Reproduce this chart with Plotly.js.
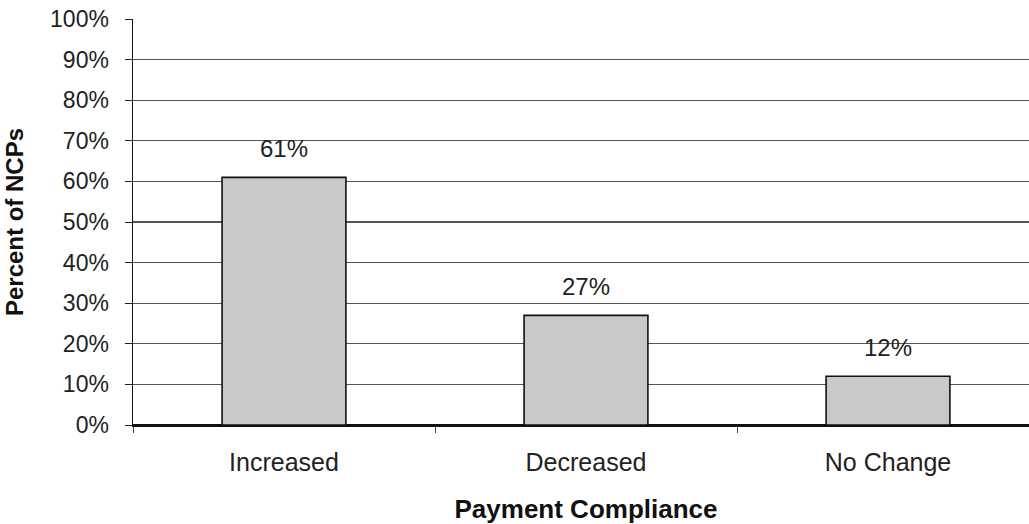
<!DOCTYPE html>
<html>
<head>
<meta charset="utf-8">
<script src="https://cdn.plot.ly/plotly-3.0.1.min.js"></script>
<style>
  html, body { margin: 0; padding: 0; overflow: hidden; background: #fff; }
  #chart { width: 1042px; height: 524px; }
</style>
</head>
<body>
<div id="chart"></div>
<script>
// Change in payment compliance among NCPs
const categories = ['Increased', 'Decreased', 'No Change'];
const percentValues = [61, 27, 12];
const yTickValues = [0, 10, 20, 30, 40, 50, 60, 70, 80, 90, 100];
const yTickLabels = yTickValues.map(v => v + '%');

const font = 'Arial, "Liberation Sans", sans-serif';

const bars = {
  type: 'bar',
  x: categories,
  y: percentValues,
  width: 0.41,
  marker: {
    color: '#c9c9c9',
    line: { color: '#111', width: 1.6 }
  },
  hoverinfo: 'skip'
};

// Value labels placed above each bar
const labels = categories.map((c, i) => ({
  x: c,
  y: percentValues[i],
  xref: 'x',
  yref: 'y',
  text: percentValues[i] + '%',
  showarrow: false,
  yanchor: 'bottom',
  yshift: 13,
  font: { family: font, size: 24, color: '#222' }
}));

const layout = {
  width: 1042,
  height: 524,
  margin: { l: 133, r: 3, t: 19, b: 99 },
  paper_bgcolor: '#fff',
  plot_bgcolor: '#fff',
  showlegend: false,
  bargap: 0.59,
  xaxis: {
    type: 'category',
    range: [-0.5, 2.5],
    tickson: 'boundaries',
    ticks: 'outside',
    ticklen: 6,
    tickcolor: '#444',
    showline: true,
    linecolor: '#111',
    linewidth: 1.5,
    showgrid: false,
    zeroline: false,
    tickfont: { family: font, size: 25, color: '#222' },
    ticklabelstandoff: 14,
    title: {
      text: 'Payment Compliance',
      font: { family: font, size: 26, color: '#111', weight: 'bold' },
      standoff: 26
    },
    fixedrange: true
  },
  yaxis: {
    range: [0, 100],
    tickvals: yTickValues,
    ticktext: yTickLabels,
    ticks: 'outside',
    ticklen: 7,
    tickcolor: '#222',
    showline: true,
    linecolor: '#111',
    linewidth: 1.5,
    showgrid: true,
    gridcolor: '#555',
    gridwidth: 1.3,
    zeroline: true,
    zerolinecolor: '#111',
    zerolinewidth: 1.5,
    tickfont: { family: font, size: 23, color: '#222' },
    ticklabelstandoff: 11,
    title: {
      text: 'Percent of NCPs',
      font: { family: font, size: 24, color: '#111', weight: 'bold' },
      standoff: 19
    },
    fixedrange: true
  },
  annotations: labels
};

Plotly.newPlot('chart', [bars], layout, { staticPlot: true, displayModeBar: false });
</script>
</body>
</html>
